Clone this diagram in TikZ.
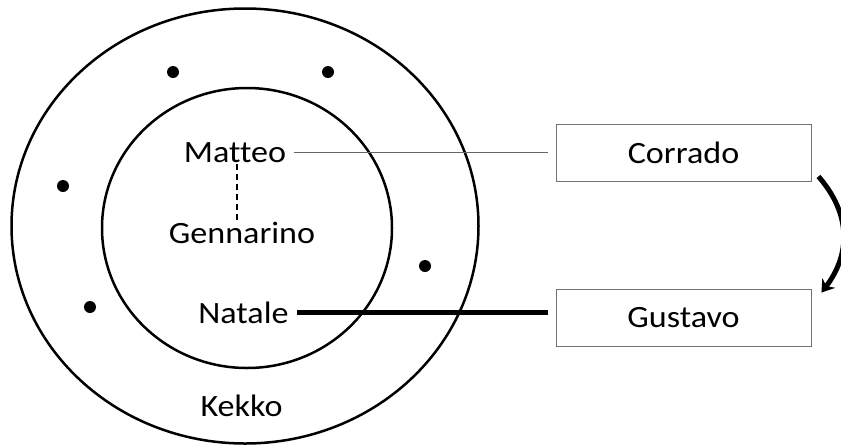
\documentclass[tikz,border=0pt]{standalone}
\usepackage{fontspec}
\setmainfont[Ligatures=NoCommon]{Carlito}
\usetikzlibrary{shapes.geometric,arrows.meta}
% labels are set slightly wide
\newcommand\widetext[1]{\scalebox{1.1}[1]{#1}}
\begin{document}
\begin{tikzpicture}[x=1pt,y=-1pt,
  ring/.style={draw, ellipse, line width=2.5pt, inner sep=0pt},
  who/.style={font=\fontsize{31}{37}\selectfont, inner xsep=8pt, inner ysep=1pt, anchor=base},
  person/.style={draw=black!55, line width=0.9pt, minimum width=255pt, minimum height=57pt,
                 font=\fontsize{31}{37}\selectfont},
  member/.style={circle, fill=black, inner sep=0pt, minimum size=12pt}]
  \useasboundingbox (0,0) rectangle (841,445);

  % nested rings
  \node[ring, minimum width=467pt, minimum height=435pt] (outer) at (245,226) {};
  \node[ring, minimum width=290pt, minimum height=280pt] (inner) at (247,228) {};

  % unnamed members of the outer ring
  \node[member] (d1) at (173,72) {};
  \node[member] (d2) at (328,72) {};
  \node[member] (d3) at (63,186) {};
  \node[member] (d4) at (425,266) {};
  \node[member] (d5) at (90,307) {};

  % names
  \node[who] (matteo) at (235,162.5) {\widetext{Matteo}};
  \node[who] (gennarino) at (242,243) {\widetext{Gennarino}};
  \node[who] (natale) at (243.5,323.5) {\widetext{Natale}};
  \node[who] (kekko) at (241.5,416.5) {\widetext{Kekko}};

  % outside people
  \node[person] (corrado) at (683.5,152.5) {\widetext{Corrado}};
  \node[person] (gustavo) at (683.5,317.5) {\widetext{Gustavo}};

  % links
  \draw[line width=1.3pt, dash pattern=on 6pt off 4pt]
    (matteo.south -| 237,0) -- (gennarino.north -| 237,0);
  \draw[black!60, line width=1pt, shorten >=8pt] (matteo.east) -- (matteo.east -| corrado.west);
  \draw[line width=5pt, shorten >=8pt] (natale.east) -- (natale.east -| gustavo.west);

  % curved arrow between the boxes
  \draw[line width=5pt, -{Stealth[length=12pt,width=16pt]}]
    ([xshift=7pt,yshift=5pt]corrado.south east) .. controls (852,215) and (850,255) .. ([xshift=10pt,yshift=-4pt]gustavo.north east);
\end{tikzpicture}
\end{document}
